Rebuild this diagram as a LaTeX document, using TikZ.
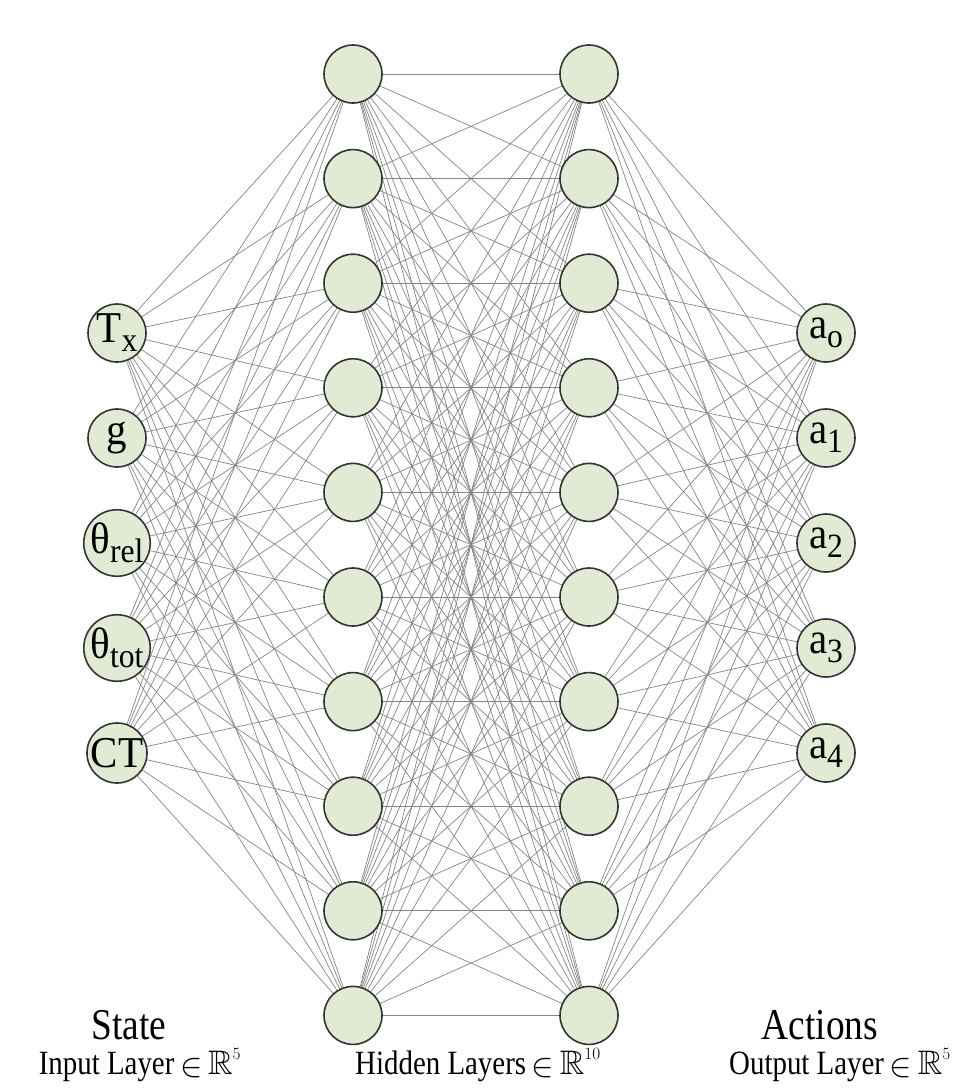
\documentclass[tikz,border=0pt]{standalone}
\usepackage{amssymb}
\usepackage{fontspec}
\setmainfont{Liberation Serif}[FakeStretch=0.85]
\newfontfamily\nodefont{Liberation Serif}[FakeStretch=0.93]
\usetikzlibrary{backgrounds}
\definecolor{neuronfill}{HTML}{E1EBD4}
\definecolor{neurondraw}{HTML}{333333}
\definecolor{linkcolor}{HTML}{858585}
\newcommand{\lowidx}[1]{\raisebox{-.45ex}{\fontsize{34}{34}\selectfont #1}}
\newcommand{\memberof}{\,\raisebox{-.1ex}{\scalebox{1.35}{$\in$}}\,}
\newcommand{\dimof}[1]{$\mathbb{R}^{\raisebox{.4ex}{$\scriptscriptstyle #1$}}$}
\tikzset{neuron/.style={circle,draw=neurondraw,fill=neuronfill,line width=1.6pt,minimum size=58pt,inner sep=0pt,font=\nodefont\fontsize{44}{44}\selectfont},link/.style={draw=linkcolor,line width=.7pt},layer title/.style={font=\fontsize{44}{44}\selectfont},layer label/.style={font=\fontsize{34}{34}\selectfont}}

\begin{document}
\begin{tikzpicture}[x=1pt,y=-1pt]
 \useasboundingbox (0,0) rectangle (978,1090);
 % input and output layers
 \foreach \i/\lbl in {1/{T\lowidx{x}},2/g,3/{θ\lowidx{rel}},4/{θ\lowidx{tot}},5/CT}
   \node[neuron] (in\i) at (117,228+105*\i) {\lbl};
 \foreach \i/\lbl in {1/{a\lowidx{o}},2/{a\lowidx{1}},3/{a\lowidx{2}},4/{a\lowidx{3}},5/{a\lowidx{4}}}
   \node[neuron] (out\i) at (826,228+105*\i) {\lbl};
 % hidden layers
 \foreach \j in {1,...,10} {
   \node[neuron] (ha\j) at (353,-30.6+104.6*\j) {};
   \node[neuron] (hb\j) at (589,-30.6+104.6*\j) {};
 }
 \begin{scope}[on background layer]
   \foreach \j in {1,...,10} {
     \foreach \i in {1,...,5} {
       \draw[link] (in\i) -- (ha\j);
       \draw[link] (hb\j) -- (out\i);
     }
     \foreach \k in {1,...,10}
       \draw[link] (ha\j) -- (hb\k);
   }
 \end{scope}
 % captions
 \node[layer title] (statettl) at (129,1025) {State};
 \node[layer label] (inlbl) at (140,1065) {Input Layer\memberof\dimof{5}};
 \node[layer label] (hidlbl) at (478,1065) {Hidden Layers\memberof\dimof{10}};
 \node[layer title] (actttl) at (820,1025) {Actions};
 \node[layer label] (outlbl) at (840,1065) {Output Layer\memberof\dimof{5}};
\end{tikzpicture}
\end{document}
